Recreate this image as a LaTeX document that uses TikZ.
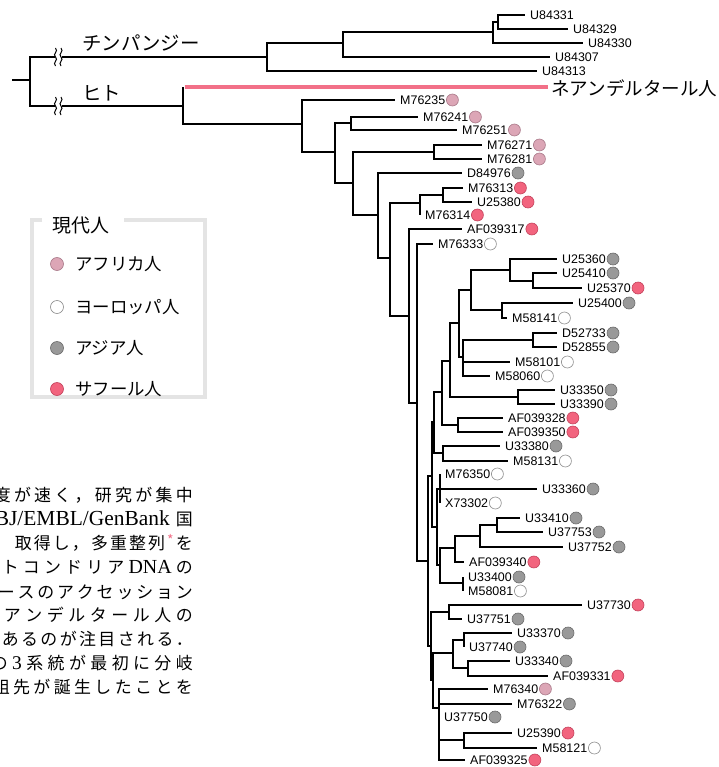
\documentclass[tikz,border=0pt]{standalone}
\usepackage{fontspec}
\setmainfont{Liberation Sans}
\newfontfamily\jp{Noto Sans CJK JP}
\newfontfamily\lmr{Liberation Serif}
\definecolor{cAfr}{HTML}{DCA6B6}
\definecolor{cAfrD}{HTML}{A87888}
\definecolor{cAsi}{HTML}{999999}
\definecolor{cAsiD}{HTML}{6A6A6A}
\definecolor{cSah}{HTML}{F2647E}
\definecolor{cSahD}{HTML}{C2405A}
\definecolor{cEurD}{HTML}{8A8A8A}
\definecolor{cNea}{HTML}{F27088}
\definecolor{cFrame}{HTML}{E4E4E4}
\def\sprA#1{\ifx\relax#1\else#1\hfil\expandafter\sprA\fi}
\newcommand\lf[4]{\coordinate (#1) at (#2,#3);
  \node[lab] (#1-t) at (#2+5,#3) {#1};
  \ifx\relax#4\relax\else\node[#4] (#1-d) at ([xshift=7bp]#1-t.east) {};\fi}
\newcommand\jl[4]{\node[jtext] (#1) at (193,#2) {\makebox[#3bp][s]{\sprA#4\relax\unskip}};}
\newcommand\brk[3]{%
  \fill[white] (#2-1,#3-2.5) rectangle (#2+6.5,#3+2.5);
  \draw[line width=1bp] (#2,#3-9) .. controls (#2+3.5,#3-5.5) and (#2-3.5,#3-3) .. (#2,#3) .. controls (#2+3.5,#3+3) and (#2-3.5,#3+5.5) .. (#2,#3+9);
  \draw[line width=1bp] (#2+5.5,#3-9) .. controls (#2+9,#3-5.5) and (#2+2,#3-3) .. (#2+5.5,#3) .. controls (#2+9,#3+3) and (#2+2,#3+5.5) .. (#2+5.5,#3+9);
  \coordinate (#1) at (#2,#3);}
\begin{document}
\begin{tikzpicture}[x=1bp,y=-1bp,
  br/.style={line width=1.5bp},
  lab/.style={anchor=west,inner sep=0,font=\fontsize{12.5}{14}\selectfont},
  dotc/.style={circle,inner sep=0,minimum size=12bp,line width=0.6bp},
  afr/.style={dotc,fill=cAfr,draw=cAfrD},
  eur/.style={dotc,fill=white,draw=cEurD},
  asia/.style={dotc,fill=cAsi,draw=cAsiD},
  sah/.style={dotc,fill=cSah,draw=cSahD},
  jbig/.style={anchor=west,inner sep=0,font=\jp\fontsize{19.5}{22}\selectfont},
  jleg/.style={anchor=west,inner sep=0,font=\jp\fontsize{17.5}{20}\selectfont},
  jtext/.style={anchor=east,inner sep=0,font=\jp\fontsize{17}{20}\selectfont},
  framel/.style={line width=4bp,draw=cFrame}]
\fill[white] (0,0) rectangle (719,767);
\useasboundingbox (0,0) rectangle (719,767);

% internal nodes
\coordinate (r0) at (12,80);
\coordinate (r) at (30,80);
\coordinate (ch) at (267,57);
\coordinate (hu) at (183,106);
\coordinate (hn) at (183,87);
\coordinate (nea) at (548,87);
\coordinate (c1) at (343,43);
\coordinate (c2) at (493,32);
\coordinate (c3) at (498,22);
\coordinate (A) at (302,124);
\coordinate (B) at (335,152);
\coordinate (C) at (351,123);
\coordinate (D) at (353,183);
\coordinate (E) at (434,152);
\coordinate (F) at (378,215);
\coordinate (G) at (390,258);
\coordinate (H) at (420,203);
\coordinate (I) at (443,195);
\coordinate (J) at (409,316);
\coordinate (K) at (417,403);
\coordinate (L) at (428,561);
\coordinate (AM) at (432,476);
\coordinate (V) at (434,422);
\coordinate (T) at (442,392);
\coordinate (R) at (450,361);
\coordinate (M) at (459,323);
\coordinate (N) at (471,290);
\coordinate (P) at (510,270);
\coordinate (PP) at (533,281);
\coordinate (Q) at (502,310);
\coordinate (O) at (463,357);
\coordinate (OO) at (533,340);
\coordinate (S) at (518,397);
\coordinate (U) at (458,425);
\coordinate (W) at (443,453);
\coordinate (AL) at (437,527);
\coordinate (X) at (440,489);
\coordinate (AJ) at (440,565);
\coordinate (AI) at (455,548);
\coordinate (AH) at (480,536);
\coordinate (AG) at (497,525);
\coordinate (AK) at (463,583);
\coordinate (AF) at (431,646);
\coordinate (Y) at (449,612);
\coordinate (AE) at (433,680);
\coordinate (Z) at (453,653);
\coordinate (AA) at (464,640);
\coordinate (AB) at (468,668);
\coordinate (AD) at (439,708);
\coordinate (AC) at (464,740);

% leaves
\lf{U84331}{525}{15}{}
\lf{U84329}{568}{29}{}
\lf{U84330}{583}{43}{}
\lf{U84307}{550}{57}{}
\lf{U84313}{537}{71}{}
\lf{M76235}{395}{100}{afr}
\lf{M76241}{418}{117}{afr}
\lf{M76251}{457}{130}{afr}
\lf{M76271}{482}{145}{afr}
\lf{M76281}{482}{159}{afr}
\lf{D84976}{462}{173}{asia}
\lf{M76313}{463}{188}{sah}
\lf{U25380}{472}{202}{sah}
\lf{M76314}{420}{215}{sah}
\lf{AF039317}{462}{229}{sah}
\lf{M76333}{433}{244}{eur}
\lf{U25360}{557}{259}{asia}
\lf{U25410}{557}{273}{asia}
\lf{U25370}{582}{288}{sah}
\lf{U25400}{573}{303}{asia}
\lf{M58141}{507}{318}{eur}
\lf{D52733}{557}{333}{asia}
\lf{D52855}{557}{347}{asia}
\lf{M58101}{510}{362}{eur}
\lf{M58060}{490}{376}{eur}
\lf{U33350}{555}{390}{asia}
\lf{U33390}{555}{404}{asia}
\lf{AF039328}{503}{418}{sah}
\lf{AF039350}{503}{432}{sah}
\lf{U33380}{500}{446}{asia}
\lf{M58131}{508}{461}{eur}
\lf{M76350}{440}{474}{eur}
\lf{U33360}{537}{489}{asia}
\lf{X73302}{440}{503}{eur}
\lf{U33410}{520}{518}{asia}
\lf{U37753}{543}{532}{asia}
\lf{U37752}{563}{547}{asia}
\lf{AF039340}{464}{562}{sah}
\lf{U33400}{463}{577}{asia}
\lf{M58081}{463}{591}{eur}
\lf{U37730}{582}{605}{sah}
\lf{U37751}{462}{619}{asia}
\lf{U33370}{512}{633}{asia}
\lf{U37740}{464}{647}{asia}
\lf{U33340}{510}{661}{asia}
\lf{AF039331}{548}{676}{sah}
\lf{M76340}{488}{689}{afr}
\lf{M76322}{512}{704}{asia}
\lf{U37750}{439}{717}{asia}
\lf{U25390}{512}{733}{sah}
\lf{M58121}{537}{748}{eur}
\lf{AF039325}{465}{760}{sah}

% branches
\draw[br] (r0) -- (r);
\foreach \p/\c in {r/ch,r/hu,ch/c1,ch/U84313,c1/c2,c1/U84307,c2/c3,c2/U84330,c3/U84331,c3/U84329,
  hu/A,A/M76235,A/B,B/C,B/D,C/M76241,C/M76251,D/E,D/F,E/M76271,E/M76281,F/D84976,F/G,
  G/H,G/J,H/I,H/M76314,I/M76313,I/U25380,J/AF039317,J/K,K/M76333,K/L,L/AM,L/AF,
  AM/V,AM/AL,V/T,V/W,T/R,T/U,R/M,R/S,M/N,M/O,N/P,N/Q,P/U25360,P/PP,PP/U25410,PP/U25370,
  Q/U25400,Q/M58141,O/OO,O/M58101,O/M58060,OO/D52733,OO/D52855,S/U33350,S/U33390,
  U/AF039328,U/AF039350,W/U33380,W/M58131,AL/X,AL/AJ,X/M76350,X/U33360,X/X73302,
  AJ/AI,AJ/AK,AI/AH,AI/AF039340,AH/AG,AH/U37752,AG/U33410,AG/U37753,AK/U33400,AK/M58081,
  AF/Y,AF/AE,Y/U37730,Y/U37751,AE/Z,AE/AD,Z/AA,Z/AB,AA/U33370,AA/U37740,AB/U33340,AB/AF039331,
  AD/M76340,AD/M76322,AD/U37750,AD/AC,AD/AF039325,AC/U25390,AC/M58121}
  {\draw[br] (\p) |- (\c);}
\draw[br] (hu) -- (hn);
\draw[line width=3.5bp,cNea] ([xshift=1.5bp]hn) -- (nea);

% break marks
\brk{bk1}{55.5}{57}
\brk{bk2}{55.5}{106}

% group labels
\node[jbig] (chimp) at (82,43) {チンパンジー};
\node[jbig] (human) at (82,93) {ヒト};
\node[jbig,font=\jp\fontsize{18.6}{20}\selectfont] (neand) at (551,88) {ネアンデルタール人};

% legend
\draw[framel] (42,220) -- (32,220) -- (32,397) -- (205,397) -- (205,220) -- (124,220);
\node[jbig,font=\jp\fontsize{19}{22}\selectfont] (legt) at (52,225) {現代人};
\node[afr,minimum size=13bp] (lg1) at (57,264) {};
\node[jleg] (lg1t) at (75,264) {アフリカ人};
\node[eur,minimum size=13bp] (lg2) at (57,307) {};
\node[jleg] (lg2t) at (75,307) {ヨーロッパ人};
\node[asia,minimum size=13bp] (lg3) at (57,348) {};
\node[jleg] (lg3t) at (75,348) {アジア人};
\node[sah,minimum size=13bp] (lg4) at (57,389) {};
\node[jleg] (lg4t) at (75,389) {サフール人};

% body text (cut at the left edge)
\begin{scope}
\clip (0,0) rectangle (719,767);
\jl{t1}{495}{199}{度が速く，研究が集中}
\jl{t2}{519}{198}{{{\lmr\fontsize{21.5}{22}\selectfont BJ/EMBL/GenBank}}国}
\jl{t3}{543}{178}{取得し，多重整列{{\color{cNea}\raisebox{4bp}{\fontsize{14}{14}\selectfont *}}}を}
\jl{t4}{567}{191}{トコンドリア{{\lmr\fontsize{20}{20}\selectfont DNA}}の}
\jl{t5}{592}{195}{ースのアクセッション}
\jl{t6}{615}{189}{アンデルタール人の}
\jl{t7}{639}{191}{あるのが注目される．}
\jl{t8}{663}{202}{の{{\lmr\fontsize{19.5}{20}\selectfont 3}}系統が最初に分岐}
\jl{t9}{687}{200}{祖先が誕生したことを}
\end{scope}
\end{tikzpicture}
\end{document}
